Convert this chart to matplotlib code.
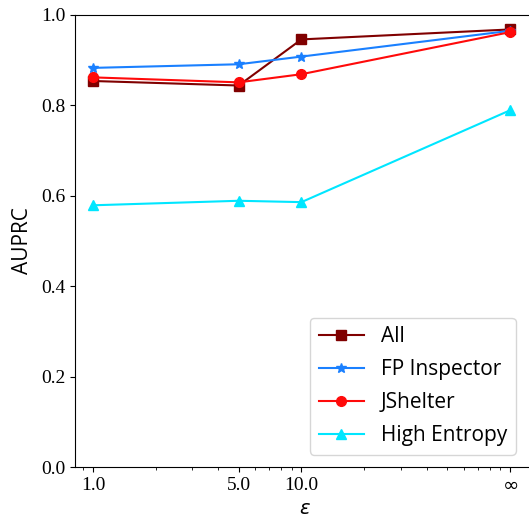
import matplotlib
matplotlib.use('Agg')
from matplotlib import pyplot as plt
from matplotlib.ticker import LogLocator, NullFormatter

# epsilon values (infinity is drawn at 100 on the log axis)
eps_values = [1.0, 5.0, 10.0, 100.0]
eps_labels = ['1.0', '5.0', '10.0', r'$\infty$']

auprc_all = [0.854, 0.844, 0.946, 0.968]
auprc_fp_inspector = [0.883, 0.891, 0.908, 0.965]
auprc_jshelter = [0.862, 0.851, 0.869, 0.962]
auprc_high_entropy = [0.579, 0.589, 0.586, 0.789]

y_ticks = [0.0, 0.2, 0.4, 0.6, 0.8, 1.0]


def main():
    sans = ['Open Sans', 'DejaVu Sans']
    serif = ['Liberation Serif', 'DejaVu Serif']

    fig = plt.figure(figsize=(5.29, 5.18), dpi=100)
    ax = fig.add_axes([75 / 529, 51 / 518, 460 / 529, 452 / 518])

    # Build the lines
    ax.plot(eps_values, auprc_all, color='#800000', marker='s', markersize=7,
            linewidth=1.5, label='All')
    ax.plot(eps_values, auprc_fp_inspector, color='#1a80ff', marker='*', markersize=7,
            linewidth=1.5, label='FP Inspector')
    ax.plot(eps_values, auprc_jshelter, color='#ff0a0a', marker='o', markersize=7,
            linewidth=1.5, label='JShelter')
    ax.plot(eps_values, auprc_high_entropy, color='#00e6ff', marker='^', markersize=7,
            linewidth=1.5, label='High Entropy')

    # Axis scale and limits
    ax.set_xscale('log')
    ax.set_xlim(0.82, 132)
    ax.set_ylim(0.0, 1.0)

    ax.set_xticks(eps_values)
    ax.set_xticklabels(eps_labels)
    ax.xaxis.set_minor_locator(LogLocator(base=10, subs=range(2, 10)))
    ax.xaxis.set_minor_formatter(NullFormatter())
    ax.set_yticks(y_ticks)
    ax.set_yticklabels(['%.1f' % t for t in y_ticks])

    for lbl in ax.get_xticklabels() + ax.get_yticklabels():
        lbl.set_family(serif)
        lbl.set_fontsize(14)

    ax.spines['right'].set_visible(False)

    # Labels
    ax.set_ylabel('AUPRC', family=sans, fontsize=15, labelpad=6)
    ax.set_xlabel(r'$\varepsilon$', fontsize=14, labelpad=4)

    ax.legend(loc='lower right', prop={'family': sans, 'size': 15},
              borderaxespad=0.6, handlelength=2.2, labelspacing=0.58,
              bbox_to_anchor=(0.985, 0.0))

    fig.savefig('out.png', dpi=100)


if __name__ == '__main__':
    main()
